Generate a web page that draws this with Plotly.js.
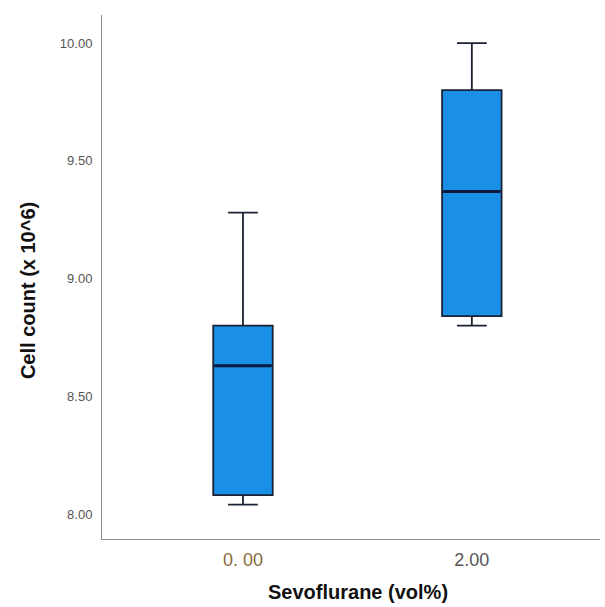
<!DOCTYPE html>
<html>
<head>
<meta charset="utf-8">
<script src="https://cdn.plot.ly/plotly-3.0.1.min.js"></script>
<style>html,body{margin:0;padding:0;background:#fff;}#chart{width:605px;height:607px;}</style>
</head>
<body>
<div id="chart"></div>
<script>
const categories = ['0.00', '2.00'];
const tickLabels = ['<span style="color:#8a6a3a">0. 00</span>', '2.00'];
const lowerWhisker = [8.04, 8.80];
const q1Values = [8.08, 8.84];
const medianValues = [8.63, 9.37];
const q3Values = [8.80, 9.80];
const upperWhisker = [9.28, 10.00];
const yTicks = [8.0, 8.5, 9.0, 9.5, 10.0];
const yTickLabels = ['8.00', '8.50', '9.00', '9.50', '10.00'];
const xTitle = 'Sevoflurane (vol%)';
const yTitle = 'Cell count (x 10^6)';

const boxTrace = {
  type: 'box',
  x: categories,
  q1: q1Values,
  median: medianValues,
  q3: q3Values,
  lowerfence: lowerWhisker,
  upperfence: upperWhisker,
  fillcolor: '#1a8fe6',
  line: {color: '#1b2233', width: 1.8},
  whiskerwidth: 0.5,
  width: 0.26,
  boxpoints: false,
  hoverinfo: 'skip',
  showlegend: false
};

// thicker median line overlay (drawn from the same median values)
const medianTrace = {
  type: 'box',
  x: categories,
  q1: medianValues,
  median: medianValues,
  q3: medianValues,
  lowerfence: medianValues,
  upperfence: medianValues,
  fillcolor: 'rgba(0,0,0,0)',
  line: {color: '#0b1a45', width: 3},
  whiskerwidth: 0,
  width: 0.25,
  boxpoints: false,
  hoverinfo: 'skip',
  showlegend: false
};

const layout = {
  width: 605,
  height: 607,
  margin: {l: 102, r: 5, t: 15, b: 68},
  paper_bgcolor: '#ffffff',
  plot_bgcolor: '#ffffff',
  boxmode: 'overlay',
  font: {family: 'Liberation Sans, Arial, sans-serif', color: '#000'},
  xaxis: {
    type: 'category',
    range: [-0.616, 1.56],
    tickvals: categories,
    ticktext: tickLabels,
    showgrid: false,
    zeroline: false,
    showline: true,
    linecolor: '#8c8c8c',
    linewidth: 1,
    ticks: '',
    tickfont: {size: 18, color: '#555', family: 'Liberation Sans, Arial, sans-serif'},
    ticklabelstandoff: 4
  },
  yaxis: {
    range: [7.894, 10.119],
    tickvals: yTicks,
    ticktext: yTickLabels,
    showgrid: false,
    zeroline: false,
    showline: true,
    linecolor: '#8c8c8c',
    linewidth: 1,
    ticks: '',
    tickfont: {size: 13, color: '#555'},
    ticklabelstandoff: 6
  },
  annotations: [
    {
      text: '<b>' + xTitle + '</b>',
      xref: 'paper', yref: 'paper',
      x: 0.514, y: -0.101,
      xanchor: 'center', yanchor: 'middle',
      showarrow: false,
      font: {size: 20, color: '#111'}
    },
    {
      text: '<b>' + yTitle + '</b>',
      xref: 'paper', yref: 'paper',
      x: -0.1486, y: 0.475,
      xanchor: 'center', yanchor: 'middle',
      textangle: -90,
      showarrow: false,
      font: {size: 20, color: '#111'}
    }
  ]
};

Plotly.newPlot('chart', [boxTrace, medianTrace], layout, {displayModeBar: false, staticPlot: true});
</script>
</body>
</html>
